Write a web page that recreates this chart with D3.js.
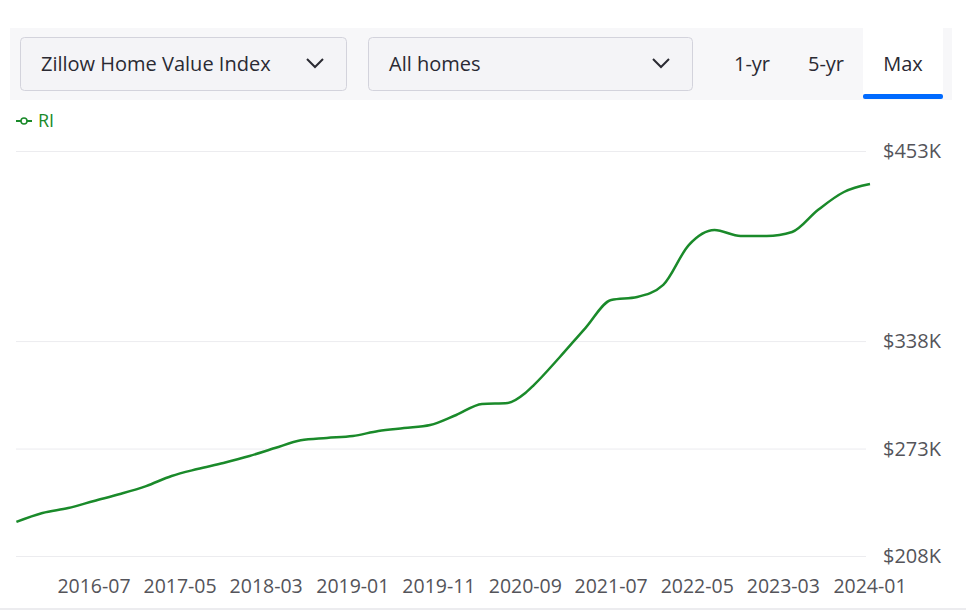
<!DOCTYPE html>
<html>
<head>
<script src="https://d3js.org/d3.v7.min.js"></script>
<style>
body{margin:0;background:#fff;font-family:"Open Sans",sans-serif;}
</style>
</head>
<body>
<div id="chart"></div>
<script>
// Series: RI Zillow Home Value Index ($K), quarterly samples
var dates = ["2015-10","2016-01","2016-04","2016-07","2016-10","2017-01","2017-04","2017-07","2017-10",
  "2018-01","2018-04","2018-07","2018-10","2019-01","2019-04","2019-07","2019-10","2020-01","2020-04",
  "2020-07","2020-09","2020-10","2021-01","2021-04","2021-07","2021-10","2022-01","2022-04","2022-07",
  "2022-10","2023-01","2023-04","2023-07","2023-10","2024-01"];
var values = [228.6,234,237,241.3,245.5,250.3,256.4,260.6,264.3,268.5,273.3,278,279.4,280.6,283.6,285.4,
  287.2,293.3,300,300.6,306.6,311.4,328.4,345.9,362.9,364.7,372,396.1,405.2,401.6,401.6,404,417.3,428.2,433];
var yTicks = [208,273,338,453];
var xTicks = ["2016-07","2017-05","2018-03","2019-01","2019-11","2020-09","2021-07","2022-05","2023-03","2024-01"];

var W = 966, H = 612;
var parse = d3.timeParse("%Y-%m");
var svg = d3.select("#chart").append("svg").attr("width", W).attr("height", H);

// control bar
svg.append("rect").attr("x",10).attr("y",28).attr("width",942).attr("height",72).attr("fill","#f7f7f9");
[{x:20,w:326,t:"Zillow Home Value Index"},{x:368,w:324,t:"All homes"}].forEach(function(d){
  svg.append("rect").attr("x",d.x+0.5).attr("y",37.5).attr("width",d.w).attr("height",53).attr("rx",4)
    .attr("fill","#f4f4f7").attr("stroke","#d3d3dc");
  svg.append("text").attr("x",d.x+21).attr("y",71).attr("font-size",20).attr("fill","#2a2a33").text(d.t);
  var cx = d.x + d.w - 31;
  svg.append("path").attr("d","M"+(cx-8)+",59 L"+cx+",67 L"+(cx+8)+",59")
    .attr("fill","none").attr("stroke","#2a2a33").attr("stroke-width",2);
});
svg.append("rect").attr("x",863).attr("y",28).attr("width",80).attr("height",70).attr("fill","#fff");
svg.append("rect").attr("x",863).attr("y",94).attr("width",80).attr("height",5).attr("rx",2).attr("fill","#006aff");
[{x:752,t:"1-yr"},{x:826,t:"5-yr"},{x:903,t:"Max"}].forEach(function(d){
  svg.append("text").attr("x",d.x).attr("y",71).attr("text-anchor","middle").attr("font-size",20)
    .attr("fill","#2a2a33").text(d.t);
});

// legend
svg.append("line").attr("x1",16).attr("x2",32).attr("y1",121).attr("y2",121).attr("stroke","#1a8a2a").attr("stroke-width",2);
svg.append("circle").attr("cx",24).attr("cy",121).attr("r",3).attr("fill","#fff").attr("stroke","#1a8a2a").attr("stroke-width",1.5);
svg.append("text").attr("x",38).attr("y",127).attr("font-size",18).attr("fill","#1a8a2a").text("RI");

var x = d3.scaleTime().domain([parse("2016-07"), parse("2024-01")]).range([94, 870]);
var y = d3.scaleLinear().domain([208, 453]).range([556, 151]);

svg.selectAll(".grid").data(yTicks).enter().append("line")
  .attr("x1",16).attr("x2",866).attr("y1",function(d){return y(d)+0.5;}).attr("y2",function(d){return y(d)+0.5;})
  .attr("stroke","#ececef");
svg.selectAll(".yl").data(yTicks).enter().append("text")
  .attr("x",941).attr("y",function(d){return y(d)+7;}).attr("text-anchor","end")
  .attr("font-size",20).attr("fill","#54545a").text(function(d){return "$"+d+"K";});
svg.selectAll(".xl").data(xTicks).enter().append("text")
  .attr("x",function(d){return x(parse(d));}).attr("y",593).attr("text-anchor","middle")
  .attr("font-size",19.5).attr("fill","#54545a").text(function(d){return d;});
svg.append("line").attr("x1",0).attr("x2",W).attr("y1",609).attr("y2",609).attr("stroke","#ececef").attr("stroke-width",2);

var line = d3.line().curve(d3.curveMonotoneX)
  .x(function(d,i){return x(parse(dates[i]));}).y(function(d){return y(d);});
svg.append("path").datum(values).attr("d",line).attr("fill","none")
  .attr("stroke","#1a8a2a").attr("stroke-width",2.5);
</script>
</body>
</html>
